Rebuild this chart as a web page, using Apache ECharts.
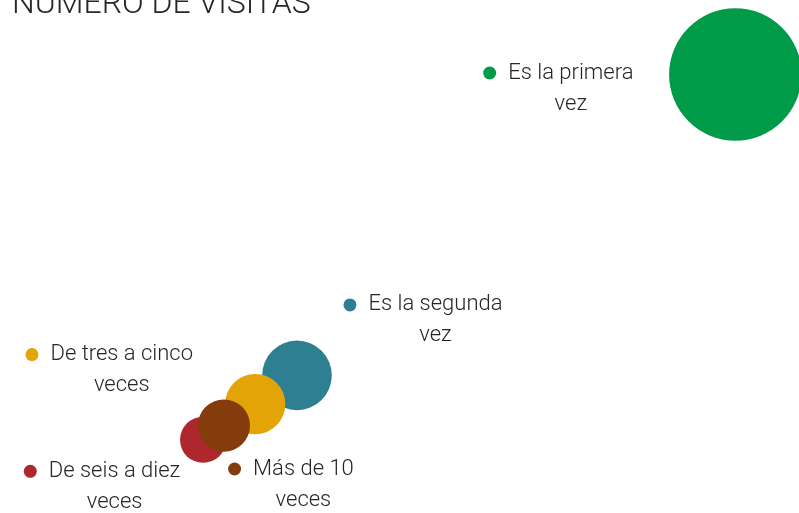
<!DOCTYPE html>
<html>
<head>
<meta charset="utf-8">
<script src="https://cdn.jsdelivr.net/npm/echarts@6/dist/echarts.min.js"></script>
<style>
  html, body { margin: 0; padding: 0; background: #fff; }
  #chart { width: 799px; height: 513px; }
</style>
</head>
<body>
<div id="chart"></div>
<script>
// categorias y porcentajes (aproximados)
var categorias = [
  "Es la primera\nvez",
  "Es la segunda\nvez",
  "De tres a cinco\nveces",
  "De seis a diez\nveces",
  "Más de 10\nveces"
];
var porcentajes = [58, 16, 12, 7, 9];
var colores = ["#009B48", "#2E7F91", "#E2A407", "#AE272C", "#843C0C"];

// posicion de cada etiqueta respecto a su burbuja
var desplazamientos = [[-177, 14], [126, -55], [-146, -34], [-101, 47], [67, 59]];

var fuente = "Roboto";
var myChart = echarts.init(document.getElementById("chart"));

var datos = porcentajes.map(function (v, i) {
  var lineas = categorias[i].split("\n");
  return {
    value: [v, v],
    name: categorias[i],
    itemStyle: { color: colores[i], opacity: 1 },
    label: {
      offset: desplazamientos[i],
      formatter: "{dot| }{gap| }" + lineas[0] + "\n{pad| }" + lineas[1],
      rich: {
        dot: { width: 13, height: 13, borderRadius: 7, backgroundColor: colores[i] },
        gap: { width: 12 },
        pad: { width: 25 }
      }
    }
  };
});

var option = {
  animation: false,
  title: {
    text: "NÚMERO DE VISITAS",
    left: 12,
    top: -11,
    padding: 0,
    textStyle: { fontFamily: fuente, fontSize: 32, fontWeight: 300, color: "#262626" }
  },
  grid: { left: 130, right: 0, top: 0, bottom: 23 },
  xAxis: { type: "value", min: 0, max: 64.1, show: false },
  yAxis: { type: "value", min: 0, max: 68.4, show: false },
  series: [
    {
      type: "scatter",
      clip: false,
      symbol: "circle",
      symbolSize: function (val) {
        return 17.4 * Math.sqrt(val[0]);
      },
      label: {
        show: true,
        position: "inside",
        align: "center",
        verticalAlign: "middle",
        fontFamily: fuente,
        fontSize: 22,
        fontWeight: 300,
        lineHeight: 31,
        color: "#262626"
      },
      emphasis: { disabled: true },
      data: datos
    }
  ]
};

myChart.setOption(option);
</script>
</body>
</html>
